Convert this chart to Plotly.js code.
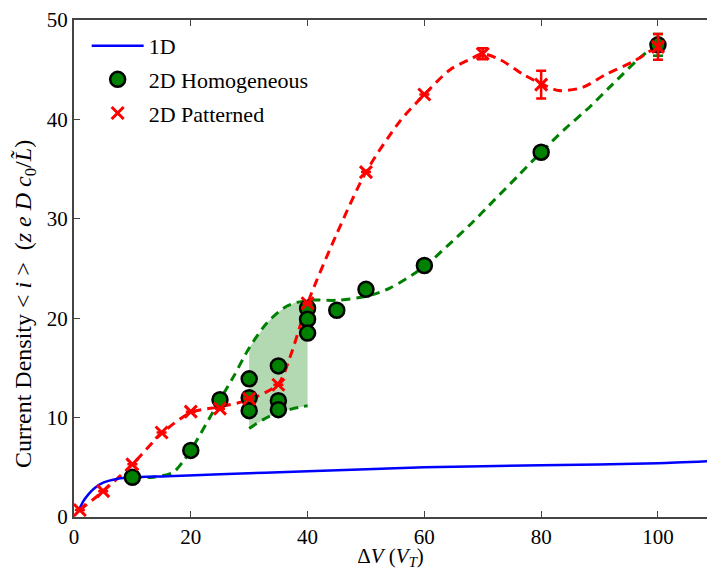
<!DOCTYPE html>
<html>
<head>
<meta charset="utf-8">
<script src="https://cdn.plot.ly/plotly-3.0.1.min.js"></script>
<style>html,body{margin:0;padding:0;background:#fff;}#chart{width:707px;height:570px;}</style>
</head>
<body>
<div id="chart"></div>
<script>
// 1D model curve
const oneDX = [0.7, 1.5, 2.5, 3.5, 5, 7.5, 10, 16, 25, 40, 60, 80, 100, 108.4];
const oneDY = [0.5, 1.5, 2.3, 2.9, 3.45, 3.85, 4.0, 4.1, 4.3, 4.6, 5.0, 5.2, 5.4, 5.6];

// 2D Homogeneous points
const homX = [10, 20, 25, 30, 30, 30, 35, 35, 35, 40, 40, 40, 45, 50, 60, 80, 100];
const homY = [4.0, 6.7, 11.8, 13.9, 12.0, 10.7, 15.2, 11.7, 10.8, 21.0, 19.9, 18.5, 20.8, 22.9, 25.3, 36.7, 47.5];
const homErr = [0, 0, 0, 0, 0, 0, 0, 0, 0, 0, 0, 0, 0, 0, 0, 0.5, 1.1];

// 2D Patterned points
const patX = [1, 5, 10, 15, 20, 25, 30, 35, 40, 50, 60, 70, 80, 100];
const patY = [0.7, 2.6, 5.3, 8.5, 10.6, 10.9, 11.9, 13.3, 21.5, 34.7, 42.5, 46.6, 43.5, 47.3];
const patErr = [0, 0, 0, 0, 0, 0, 0, 0, 0, 0, 0, 0.55, 1.4, 1.3];

// dashed guide curves
const homCurveX = [10, 13.6, 17, 18.7, 20, 25, 27.3, 30, 33, 36.4, 40, 45, 50, 54, 60, 64, 68, 72, 76, 80, 84, 88.4, 92, 97.5, 100];
const homCurveY = [4.0, 4.0, 4.5, 5.6, 6.7, 11.8, 14.1, 17.0, 19.5, 21.2, 21.8, 21.8, 22.2, 23.0, 25.2, 27.3, 29.5, 31.9, 34.3, 36.7, 39.0, 41.3, 43.4, 46.5, 47.5];
const lowerCurveX = [30, 32.4, 35, 37.5, 40];
const lowerCurveY = [8.9, 9.8, 10.5, 10.9, 11.2];
const patCurveX = [1, 5, 10, 15, 20, 25, 30, 35, 37, 40, 45, 50, 55.8, 60, 64.4, 68, 70, 73, 77, 80, 83, 87, 91, 96, 100];
const patCurveY = [0.7, 2.6, 5.3, 8.4, 10.5, 11.1, 11.8, 13.4, 16.1, 21.5, 28.5, 34.7, 39.8, 42.5, 45.0, 46.1, 46.6, 46.0, 44.5, 43.6, 42.9, 43.2, 44.5, 45.9, 47.4];

// shaded band between 30 and 40
const bandUpperX = [30, 31.5, 33, 34.5, 36.4, 38, 40];
const bandUpperY = [17.0, 18.3, 19.5, 20.4, 21.2, 21.6, 21.8];

const FONT = 'Liberation Serif';
const GREEN = '#008000';
const RED = '#ff0000';
const BLUE = '#0000ff';

const bandX = bandUpperX.concat(lowerCurveX.slice().reverse());
const bandY = bandUpperY.concat(lowerCurveY.slice().reverse());

const traces = [
  {x: bandX, y: bandY, mode: 'lines', fill: 'toself', fillcolor: 'rgba(0,128,0,0.3)',
   line: {width: 0, color: 'rgba(0,0,0,0)'}, showlegend: false, hoverinfo: 'skip'},
  {x: lowerCurveX, y: lowerCurveY, mode: 'lines', line: {color: GREEN, width: 3, dash: '9px,6px', shape: 'spline'}, showlegend: false},
  {x: homCurveX, y: homCurveY, mode: 'lines', line: {color: GREEN, width: 3, dash: '9px,6px', shape: 'spline', smoothing: 0.8}, showlegend: false},
  {x: patCurveX, y: patCurveY, mode: 'lines', line: {color: RED, width: 3, dash: '9px,6px', shape: 'spline', smoothing: 0.8}, showlegend: false},
  {x: oneDX, y: oneDY, mode: 'lines', name: '1D', legendgroup: 'a', line: {color: BLUE, width: 2.5, shape: 'spline', smoothing: 0.6}},
  {x: homX, y: homY, mode: 'markers', name: '2D Homogeneous', legendgroup: 'b',
   marker: {symbol: 'circle', size: 15, color: GREEN, line: {color: '#000', width: 2.5}},
   error_y: {type: 'data', array: homErr, visible: true, color: GREEN, thickness: 2.5, width: 5}},
  {x: patX, y: patY, mode: 'markers', name: '2D Patterned', legendgroup: 'c',
   marker: {symbol: 'x-thin', size: 12, color: RED, line: {color: RED, width: 3}},
   error_y: {type: 'data', array: patErr, visible: true, color: RED, thickness: 2.5, width: 5}}
];

const layout = {
  width: 707, height: 570,
  margin: {l: 74, r: 0, t: 20, b: 53},
  paper_bgcolor: '#fff', plot_bgcolor: '#fff',
  font: {family: FONT, size: 21, color: '#000'},
  showlegend: true,
  legend: {x: 0.02, y: 0.99, xanchor: 'left', yanchor: 'top', bgcolor: 'rgba(0,0,0,0)',
           font: {family: FONT, size: 22, color: '#000'}, tracegroupgap: 2, itemwidth: 52},
  xaxis: {
    range: [0, 108.4], tickvals: [0, 20, 40, 60, 80, 100], ticks: 'inside', ticklen: 6, tickwidth: 1,
    tickcolor: '#444', showline: true, linecolor: '#444', linewidth: 2, mirror: 'ticks',
    showgrid: false, zeroline: false, tickfont: {family: FONT, size: 21},
    title: {text: 'Δ<i>V</i> (<i>V</i><sub><i>T</i></sub>)', font: {family: FONT, size: 21}, standoff: 4},
    automargin: false
  },
  yaxis: {
    range: [0, 50], tickvals: [0, 10, 20, 30, 40, 50], ticks: 'inside', ticklen: 6, tickwidth: 1,
    tickcolor: '#444', showline: true, linecolor: '#444', linewidth: 2, mirror: false,
    showgrid: false, zeroline: false, tickfont: {family: FONT, size: 21},
    automargin: false
  },
  annotations: [{
    text: 'Current Density &lt;&nbsp;<i>i</i>&nbsp;&gt;&nbsp; (<i>z e D c</i><sub>0</sub>/<i>L&#771;</i>)',
    xref: 'paper', yref: 'paper', x: -0.0774, y: 0.4286, xanchor: 'center', yanchor: 'middle',
    textangle: -90, showarrow: false, font: {family: FONT, size: 24, color: '#000'}
  }]
};

Plotly.newPlot('chart', traces, layout, {displayModeBar: false, staticPlot: true});
</script>
</body>
</html>
